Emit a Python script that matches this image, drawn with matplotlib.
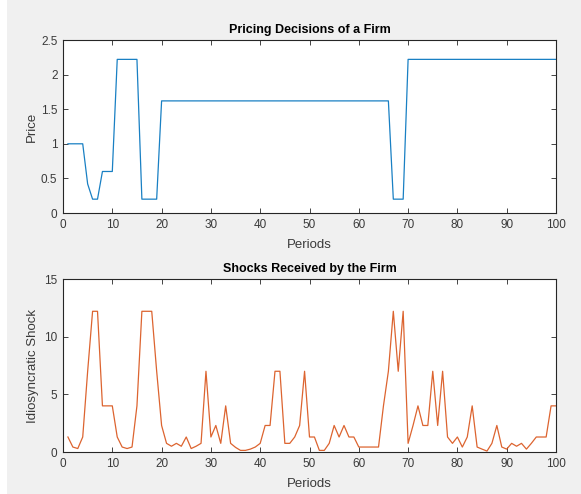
import matplotlib
matplotlib.use("Agg")
import matplotlib.pyplot as plt
import numpy as np

plt.rcParams['font.family'] = ['Liberation Sans', 'DejaVu Sans']

periods = np.arange(1, 101)

# firm's chosen price each period
price = ([1.0] * 4 + [0.42] + [0.2] * 2 + [0.6] * 3 + [2.22] * 5 + [0.2] * 4
         + [1.62] * 47 + [0.2] * 3 + [2.22] * 31)

# idiosyncratic shock drawn each period
shocks = [1.3, 0.43, 0.3, 1.3, 7.0, 12.2, 12.2, 4.0, 4.0, 4.0,
          1.3, 0.43, 0.3, 0.43, 4.0, 12.2, 12.2, 12.2, 7.0, 2.3,
          0.75, 0.5, 0.75, 0.5, 1.3, 0.3, 0.5, 0.75, 7.0, 1.3,
          2.3, 0.75, 4.0, 0.75, 0.4, 0.14, 0.14, 0.25, 0.43, 0.75,
          2.3, 2.3, 7.0, 7.0, 0.75, 0.75, 1.3, 2.3, 7.0, 1.3,
          1.3, 0.14, 0.14, 0.75, 2.3, 1.3, 2.3, 1.3, 1.3, 0.43,
          0.43, 0.43, 0.43, 0.43, 4.0, 7.0, 12.2, 7.0, 12.2, 0.75,
          2.3, 4.0, 2.3, 2.3, 7.0, 2.3, 7.0, 1.3, 0.75, 1.3,
          0.43, 1.3, 4.0, 0.43, 0.25, 0.08, 0.75, 2.3, 0.43, 0.25,
          0.75, 0.5, 0.75, 0.25, 0.75, 1.3, 1.3, 1.3, 4.0, 4.0]

W, H = 581, 494
fig = plt.figure(figsize=(W / 100, H / 100), dpi=100, facecolor='#f0f0f0')
fig.patches.append(plt.Rectangle((0, 0), 7 / W, 1, transform=fig.transFigure,
                                 facecolor='white', edgecolor='none', zorder=-1))

edge = '#262626'
text_col = '#3a3a3a'


def style(ax):
    for s in ax.spines.values():
        s.set_color(edge)
        s.set_linewidth(0.8)
    ax.tick_params(direction='in', top=True, right=True, length=3.5, width=0.6,
                   colors=edge, labelcolor=text_col, labelsize=8.5, pad=4)
    ax.set_xlim(0, 100)
    ax.set_xticks(np.arange(0, 101, 10))


ax1 = fig.add_axes([63 / W, 1 - 213 / H, 493 / W, 173 / H])
ax1.plot(periods, price, color='#0072BD', lw=0.9, alpha=0.9)
style(ax1)
ax1.set_ylim(0, 2.5)
ax1.set_yticks([0, 0.5, 1, 1.5, 2, 2.5])
ax1.set_yticklabels(['0', '0.5', '1', '1.5', '2', '2.5'])
ax1.set_title('Pricing Decisions of a Firm', fontsize=9, fontweight='bold', pad=5)
ax1.set_xlabel('Periods', fontsize=9.5, color=text_col, labelpad=6)
ax1.set_ylabel('Price', fontsize=9.5, color=text_col, labelpad=2)

ax2 = fig.add_axes([63 / W, 1 - 452 / H, 493 / W, 173 / H])
ax2.plot(periods, shocks, color='#D95319', lw=0.9, alpha=0.9)
style(ax2)
ax2.set_ylim(0, 15)
ax2.set_yticks([0, 5, 10, 15])
ax2.set_title('Shocks Received by the Firm', fontsize=9, fontweight='bold', pad=5)
ax2.set_xlabel('Periods', fontsize=9.5, color=text_col, labelpad=6)
ax2.set_ylabel('Idiosyncratic Shock', fontsize=9.5, color=text_col, labelpad=4)

fig.savefig('out.png', dpi=100, facecolor=fig.get_facecolor())
